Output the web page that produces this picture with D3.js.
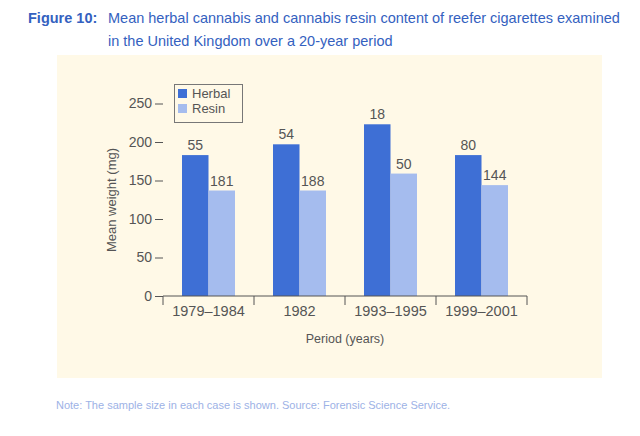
<!DOCTYPE html>
<html><head><meta charset="utf-8">
<script src="https://cdn.jsdelivr.net/npm/d3@7"></script>
<style>body{margin:0;background:#fff;}svg{display:block;font-family:"Liberation Sans","DejaVu Sans",sans-serif;}</style>
</head><body>
<svg id="c" width="640" height="436"></svg>
<script>
const categories = ["1979–1984", "1982", "1993–1995", "1999–2001"];
const seriesNames = ["Herbal", "Resin"];
const herbal = [183, 197, 223, 183];
const resin = [137, 137, 159, 144];
const herbalN = ["55", "54", "18", "80"];
const resinN = ["181", "188", "50", "144"];
const yTicks = [0, 50, 100, 150, 200, 250];
const colors = ["#3e6fd5", "#a5bcee"];

const svg = d3.select("#c");
svg.append("rect").attr("x",57).attr("y",55).attr("width",545).attr("height",323).attr("fill","#fff9e7");

const title = svg.append("g").attr("fill","#3461c0");
title.append("text").attr("x",28).attr("y",23).attr("font-weight","bold").style("font-size","14.5px").text("Figure 10:");
title.append("text").attr("x",108).attr("y",23).style("font-size","14.5px").text("Mean herbal cannabis and cannabis resin content of reefer cigarettes examined");
title.append("text").attr("x",108).attr("y",46).style("font-size","14.5px").text("in the United Kingdom over a 20-year period");

const x = d3.scaleBand().domain(categories).range([163, 527]).paddingInner(0).paddingOuter(0);
const y = d3.scaleLinear().domain([0, 250]).range([296, 103.5]);
const bw = 26.5;

const rows = categories.map((c,i)=>({c, vals:[herbal[i], resin[i]], ns:[herbalN[i], resinN[i]]}));
const g = svg.append("g");
rows.forEach(r=>{
  const cx = x(r.c) + x.bandwidth()/2;
  r.vals.forEach((v,j)=>{
    const bx = cx - bw + j*bw;
    g.append("rect").attr("x",bx).attr("y",y(v)).attr("width",bw).attr("height",y(0)-y(v)).attr("fill",colors[j]);
    g.append("text").attr("x",bx+bw/2).attr("y",y(v)-5).attr("text-anchor","middle")
      .attr("fill","#555").style("font-size","14px").text(r.ns[j]);
  });
});

const yAxis = svg.append("g").attr("transform","translate(163,0)")
  .call(d3.axisLeft(y).tickValues(yTicks).tickSize(8).tickPadding(3));
yAxis.select(".domain").remove();
yAxis.selectAll("line").attr("stroke","#555");
yAxis.selectAll("text").attr("fill","#555").style("font-size","14px").style("font-family","inherit");

const xAxis = svg.append("g").attr("transform","translate(0,296)")
  .call(d3.axisBottom(x).tickSize(0).tickPadding(10));
xAxis.select(".domain").attr("stroke","#555").attr("d","M163,0H527");
xAxis.selectAll("text").attr("fill","#555").style("font-size","14.5px").style("font-family","inherit");
const bounds = [163].concat(categories.map(c=>x(c)+x.bandwidth()));
svg.append("g").selectAll("line").data(bounds).join("line")
  .attr("x1",d=>d).attr("x2",d=>d).attr("y1",296).attr("y2",305).attr("stroke","#555");

svg.append("text").attr("x",345).attr("y",343).attr("text-anchor","middle").attr("fill","#555")
  .style("font-size","12.5px").text("Period (years)");
svg.append("text").attr("transform","translate(116,200) rotate(-90)").attr("text-anchor","middle")
  .attr("fill","#555").style("font-size","13px").text("Mean weight (mg)");

const leg = svg.append("g");
leg.append("rect").attr("x",174.5).attr("y",84.5).attr("width",68).attr("height",38).attr("fill","#fff9e7").attr("stroke","#777");
seriesNames.forEach((s,i)=>{
  leg.append("rect").attr("x",178).attr("y",89+i*15).attr("width",9).attr("height",9).attr("fill",colors[i]);
  leg.append("text").attr("x",192).attr("y",98+i*15).attr("fill","#555").style("font-size","13px").text(s);
});

svg.append("text").attr("x",56).attr("y",409).attr("fill","#9db2e6").style("font-size","11px")
  .text("Note: The sample size in each case is shown. Source: Forensic Science Service.");
</script>
</body></html>
